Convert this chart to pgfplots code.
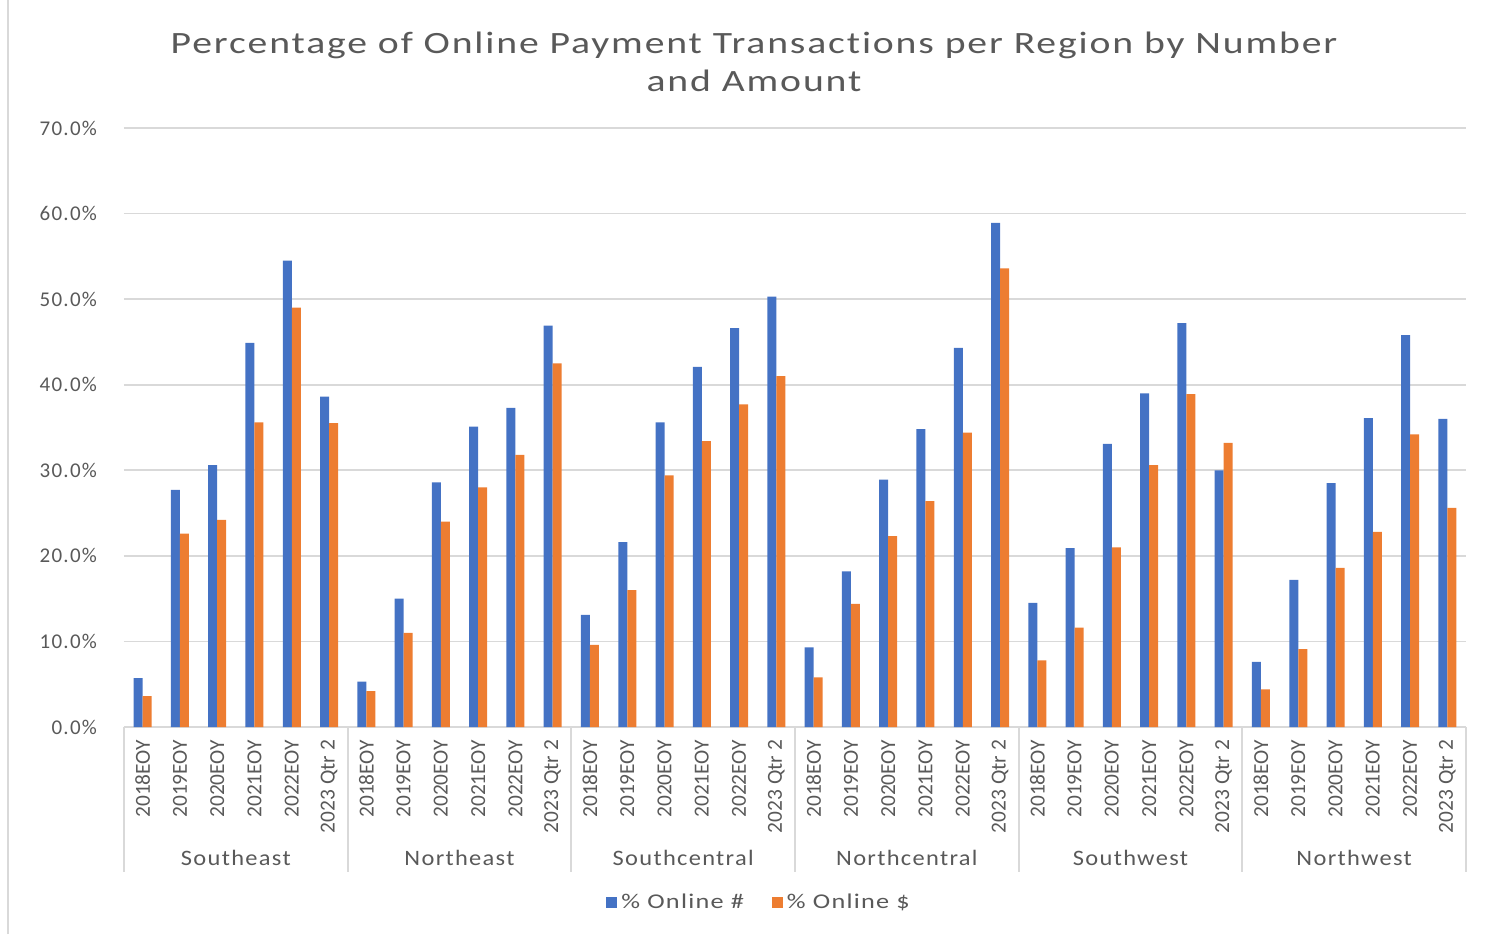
\documentclass[border=0pt]{standalone}
\usepackage{pgfplots}
\pgfplotsset{compat=1.18}
\usepackage{fontspec}
\setmainfont{Carlito}[RawFeature=-liga]
\newfontfamily\spaced[LetterSpace=6,RawFeature=-liga]{Carlito}
\newfontfamily\titlefont[LetterSpace=6,FakeStretch=1.28,RawFeature=-liga]{Carlito}
\newfontfamily\groupfont[LetterSpace=6,FakeStretch=1.11,RawFeature=-liga]{Carlito}
\newfontfamily\legfont[LetterSpace=6,FakeStretch=1.25,RawFeature=-liga]{Carlito}
\definecolor{bblue}{HTML}{4472C4}
\definecolor{borange}{HTML}{ED7D31}
\definecolor{gridc}{HTML}{D9D9D9}
\definecolor{txt}{HTML}{595959}
\begin{document}
\begin{tikzpicture}
\path[use as bounding box] (-62pt,-103.5pt) rectangle (684.5pt,363.5pt);
\draw[gridc, line width=1pt] (-58pt,-103.5pt) -- (-58pt,363.5pt);
\node[txt, align=center, font=\titlefont\fontsize{15.5}{19}\selectfont] at (315pt,332.5pt)
  {Percentage of Online Payment Transactions per Region by Number\\and Amount};
\begin{axis}[
  at={(0,0)}, anchor=south west,
  width=671pt, height=299.5pt, scale only axis,
  ybar=0pt, bar width=4.5pt,
  xmin=-0.5, xmax=35.5, ymin=0, ymax=70,
  ytick={0,10,...,70},
  yticklabel={\pgfmathprintnumber[fixed,fixed zerofill,precision=1]{\tick}\%},
  /pgf/number format/assume math mode=true,
  ymajorgrids, grid style={gridc, line width=0.8pt},
  axis x line*=bottom, axis y line*=left,
  x axis line style={gridc, line width=1pt, -},
  y axis line style={draw=none},
  major tick length=0pt,
  xtick={0,...,35},
  xticklabels={2018EOY,2019EOY,2020EOY,2021EOY,2022EOY,2023 Qtr 2,
               2018EOY,2019EOY,2020EOY,2021EOY,2022EOY,2023 Qtr 2,
               2018EOY,2019EOY,2020EOY,2021EOY,2022EOY,2023 Qtr 2,
               2018EOY,2019EOY,2020EOY,2021EOY,2022EOY,2023 Qtr 2,
               2018EOY,2019EOY,2020EOY,2021EOY,2022EOY,2023 Qtr 2,
               2018EOY,2019EOY,2020EOY,2021EOY,2022EOY,2023 Qtr 2},
  xticklabel style={rotate=90, anchor=east, xshift=-3pt, font=\fontsize{10.7}{12}\selectfont, text=txt},
  yticklabel style={xshift=-10pt, font=\spaced\fontsize{10.5}{12}\selectfont, text=txt},
  clip=false,
  legend style={at={(0.474,-0.2938)}, anchor=center, draw=none, legend columns=2,
    font=\legfont\fontsize{10.5}{12}\selectfont, text=txt,
    /tikz/every even column/.append style={column sep=12pt}},
  legend image code/.code={\fill[#1] (0pt,-2.75pt) rectangle (5.5pt,2.75pt);},
]
\addplot[fill=bblue, draw=none] coordinates {
 (0,5.7) (1,27.7) (2,30.6) (3,44.9) (4,54.5) (5,38.6)
 (6,5.3) (7,15.0) (8,28.6) (9,35.1) (10,37.3) (11,46.9)
 (12,13.1) (13,21.6) (14,35.6) (15,42.1) (16,46.6) (17,50.3)
 (18,9.3) (19,18.2) (20,28.9) (21,34.8) (22,44.3) (23,58.9)
 (24,14.5) (25,20.9) (26,33.1) (27,39.0) (28,47.2) (29,30.0)
 (30,7.6) (31,17.2) (32,28.5) (33,36.1) (34,45.8) (35,36.0)};
\addplot[fill=borange, draw=none] coordinates {
 (0,3.6) (1,22.6) (2,24.2) (3,35.6) (4,49.0) (5,35.5)
 (6,4.2) (7,11.0) (8,24.0) (9,28.0) (10,31.8) (11,42.5)
 (12,9.6) (13,16.0) (14,29.4) (15,33.4) (16,37.7) (17,41.0)
 (18,5.8) (19,14.4) (20,22.3) (21,26.4) (22,34.4) (23,53.6)
 (24,7.8) (25,11.6) (26,21.0) (27,30.6) (28,38.9) (29,33.2)
 (30,4.4) (31,9.1) (32,18.6) (33,22.8) (34,34.2) (35,25.6)};
\legend{\% Online \#, \% Online \$}
\pgfplotsinvokeforeach{-0.5,5.5,11.5,17.5,23.5,29.5,35.5}{
  \draw[gridc, line width=1pt] (axis cs:#1,0) -- ([yshift=-72.5pt]axis cs:#1,0);
}
\node[txt, font=\groupfont\fontsize{11}{13}\selectfont] at ([yshift=-65.5pt]axis cs:2.5,0) {Southeast};
\node[txt, font=\groupfont\fontsize{11}{13}\selectfont] at ([yshift=-65.5pt]axis cs:8.5,0) {Northeast};
\node[txt, font=\groupfont\fontsize{11}{13}\selectfont] at ([yshift=-65.5pt]axis cs:14.5,0) {Southcentral};
\node[txt, font=\groupfont\fontsize{11}{13}\selectfont] at ([yshift=-65.5pt]axis cs:20.5,0) {Northcentral};
\node[txt, font=\groupfont\fontsize{11}{13}\selectfont] at ([yshift=-65.5pt]axis cs:26.5,0) {Southwest};
\node[txt, font=\groupfont\fontsize{11}{13}\selectfont] at ([yshift=-65.5pt]axis cs:32.5,0) {Northwest};
\end{axis}
\end{tikzpicture}
\end{document}
